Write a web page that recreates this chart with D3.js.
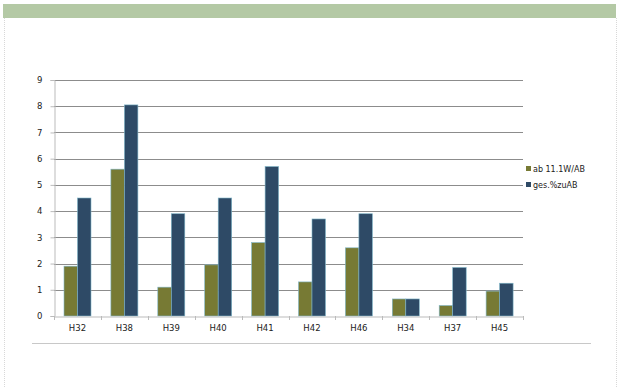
<!DOCTYPE html>
<html>
<head>
<meta charset="utf-8">
<script src="https://cdn.jsdelivr.net/npm/d3@7"></script>
<style>
  body { margin: 0; background: #fff; }
  svg text { font-family: "DejaVu Sans", sans-serif; }
</style>
</head>
<body>
<svg id="chart" width="620" height="388"></svg>
<script>
// categories + the two series
var categories = ['H32', 'H38', 'H39', 'H40', 'H41', 'H42', 'H46', 'H34', 'H37', 'H45'];
var seriesNames = ['ab 11.1W/AB', 'ges.%zuAB'];
var abValues = [1.9, 5.6, 1.1, 1.95, 2.8, 1.3, 2.6, 0.65, 0.4, 0.95];
var gesValues = [4.5, 8.05, 3.9, 4.5, 5.7, 3.7, 3.9, 0.65, 1.85, 1.25];
var yTicks = [0, 1, 2, 3, 4, 5, 6, 7, 8, 9];
var colors = ['#777a34', '#2e4a66'];

var svg = d3.select('#chart');

// top green band and dotted page edges
svg.append('rect').attr('x', 3).attr('y', 4).attr('width', 613).attr('height', 14).attr('fill', '#b4c9a5');
[4.5, 616.5].forEach(function(x){
  svg.append('line').attr('x1', x).attr('x2', x).attr('y1', 18).attr('y2', 388)
    .attr('stroke', '#d8d8d8').attr('stroke-dasharray', '1,1');
});

// plot box (don't call it "top", that's window.top)
var plotL = 54, plotR = 523, plotT = 80, plotB = 316;

var x = d3.scaleBand().domain(categories).range([plotL, plotR]).paddingInner(0).paddingOuter(0);
var y = d3.scaleLinear().domain([0, 9]).range([plotB, plotT]);

// gridlines
svg.append('g').selectAll('line').data(yTicks.slice(1)).enter().append('line')
  .attr('x1', plotL).attr('x2', plotR)
  .attr('y1', function(d){ return Math.round(y(d)) + 0.5; })
  .attr('y2', function(d){ return Math.round(y(d)) + 0.5; })
  .attr('stroke', '#8c8c8c').attr('stroke-width', 1);

// y axis
var yAxis = svg.append('g').attr('transform', 'translate(' + (plotL + 0.5) + ',0)')
  .call(d3.axisLeft(y).tickValues(yTicks).tickSize(4).tickPadding(8).tickFormat(d3.format('d')));
yAxis.select('.domain').attr('stroke', '#bbbbbb');
yAxis.selectAll('line').attr('stroke', '#bbbbbb');
yAxis.selectAll('text').attr('fill', '#222').style('font-size', '8.5px');

// bars
var rows = categories.map(function(c, i){ return {cat: c, vals: [abValues[i], gesValues[i]]}; });
var barW = 13.5, groupOff = 10;
var groups = svg.append('g').selectAll('g').data(rows).enter().append('g')
  .attr('transform', function(d){ return 'translate(' + (x(d.cat) + groupOff) + ',0)'; });
groups.selectAll('rect').data(function(d){ return d.vals; }).enter().append('rect')
  .attr('x', function(d, j){ return j * barW; })
  .attr('y', function(d){ return y(d); })
  .attr('width', barW)
  .attr('height', function(d){ return plotB - y(d); })
  .attr('fill', function(d, j){ return colors[j]; })
  .attr('stroke', '#7fb6c9').attr('stroke-width', 0.6);

// x axis
var xAxis = svg.append('g').attr('transform', 'translate(0,' + (plotB + 0.5) + ')')
  .call(d3.axisBottom(x).tickSize(0).tickPadding(8));
xAxis.select('.domain').attr('stroke', '#bbbbbb');
xAxis.selectAll('text').attr('fill', '#222').style('font-size', '8.5px');
svg.append('g').selectAll('line').data(categories.concat(['end'])).enter().append('line')
  .attr('x1', function(d, i){ return Math.round(plotL + i * x.bandwidth()) + 0.5; })
  .attr('x2', function(d, i){ return Math.round(plotL + i * x.bandwidth()) + 0.5; })
  .attr('y1', plotB).attr('y2', plotB + 4).attr('stroke', '#bbbbbb');

// legend
var legend = svg.append('g').selectAll('g').data(seriesNames).enter().append('g')
  .attr('transform', function(d, i){ return 'translate(526,' + (169 + i * 16) + ')'; });
legend.append('rect').attr('x', 0).attr('y', -3).attr('width', 5).attr('height', 5)
  .attr('fill', function(d, i){ return colors[i]; });
legend.append('text').attr('x', 7).attr('y', 2.5).text(function(d){ return d; })
  .attr('fill', '#222').style('font-size', '8px');

// bottom rule
svg.append('line').attr('x1', 32).attr('x2', 591).attr('y1', 343.5).attr('y2', 343.5)
  .attr('stroke', '#c8c8c8');
</script>
</body>
</html>
